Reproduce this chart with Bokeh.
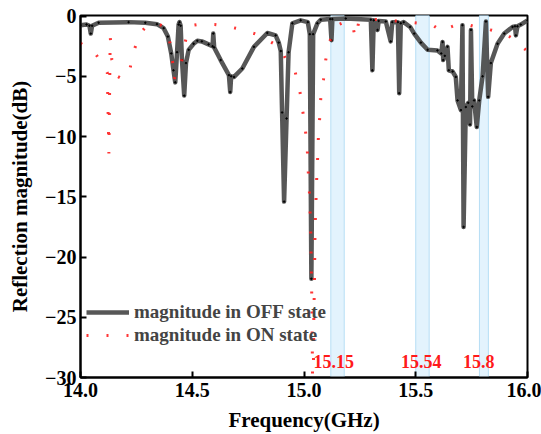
from bokeh.plotting import figure
from bokeh.models import FixedTicker, PrintfTickFormatter, Legend, LegendItem, Range1d
from bokeh.core.properties import value
from bokeh.embed import file_html
from bokeh.resources import INLINE

# ---- data ----
off_freq = [14.000, 14.027, 14.040, 14.046, 14.052, 14.081, 14.215, 14.290, 14.342, 14.372,
            14.391, 14.406, 14.416, 14.424, 14.432, 14.439, 14.443, 14.448, 14.454, 14.464,
            14.472, 14.484, 14.506, 14.523, 14.543, 14.573, 14.591, 14.594, 14.598, 14.627,
            14.664, 14.670, 14.674, 14.687, 14.724, 14.776, 14.836, 14.873, 14.887, 14.896,
            14.902, 14.911, 14.922, 14.931, 14.948, 14.985, 15.017, 15.026, 15.033, 15.041,
            15.060, 15.075, 15.117, 15.123, 15.127, 15.187, 15.299, 15.306, 15.312, 15.329,
            15.334, 15.366, 15.388, 15.395, 15.420, 15.426, 15.433, 15.446, 15.475, 15.493,
            15.523, 15.553, 15.597, 15.614, 15.620, 15.623, 15.630, 15.642, 15.648, 15.665,
            15.679, 15.687, 15.702, 15.709, 15.714, 15.724, 15.735, 15.743, 15.747, 15.753,
            15.761, 15.773, 15.784, 15.799, 15.814, 15.824, 15.836, 15.866, 15.896, 15.933,
            15.944, 15.948, 15.955, 15.970, 16.000]
off_db = [-0.75, -0.70, -0.80, -1.45, -0.80, -0.55, -0.50, -0.55, -0.67, -1.00,
          -1.70, -3.10, -4.50, -5.50, -3.00, -0.70, -0.50, -0.80, -3.65, -6.60,
          -3.90, -2.80, -2.30, -2.05, -2.10, -2.35, -2.50, -1.45, -2.60, -3.65,
          -4.90, -6.30, -5.00, -5.05, -4.35, -2.55, -1.40, -1.60, -2.20, -2.90,
          -8.00, -15.40, -8.50, -3.00, -0.60, -0.35, -0.50, -1.50, -21.80, -1.50,
          -0.60, -0.30, -0.25, -2.00, -0.25, -0.20, -0.30, -4.50, -0.35, -1.15,
          -0.40, -0.45, -2.10, -0.50, -0.50, -6.40, -0.60, -0.50, -0.90, -1.45,
          -2.20, -2.80, -2.85, -3.10, -2.15, -3.65, -3.30, -2.55, -4.50, -4.60,
          -5.05, -7.00, -7.80, -0.75, -17.50, -7.55, -7.20, -9.00, -1.15, -7.50,
          -7.00, -9.20, -7.00, -5.00, -0.45, -6.70, -3.90, -2.30, -1.45, -0.90,
          -0.85, -1.60, -0.85, -0.70, -0.35]

on_freq = [14.000, 14.025, 14.050, 14.070, 14.090, 14.110, 14.120, 14.127, 14.133, 14.140,
           14.150, 14.165, 14.185, 14.205, 14.218, 14.235, 14.265, 14.300, 14.335, 14.365,
           14.390, 14.405, 14.412, 14.418, 14.430, 14.447, 14.463, 14.478, 14.507, 14.540,
           14.600, 14.654, 14.716, 14.776, 14.821, 14.851, 14.890, 14.928, 14.960, 14.982,
           14.995, 15.007, 15.015, 15.019, 15.024, 15.027, 15.030, 15.033, 15.036, 15.040,
           15.044, 15.047, 15.049, 15.051, 15.054, 15.057, 15.061, 15.064, 15.070, 15.076,
           15.087, 15.097, 15.116, 15.149, 15.180, 15.215, 15.230, 15.245, 15.321, 15.410,
           15.493, 15.575, 15.620, 15.642, 15.679, 15.731, 15.769, 15.814, 15.836, 15.896,
           15.926, 15.956, 15.985, 16.000]
on_db = [-2.25, -2.55, -2.85, -3.20, -3.80, -4.30, -4.70, -11.40, -1.70, -3.60,
         -4.50, -5.00, -5.20, -5.10, -4.70, -3.10, -1.50, -0.70, -0.55, -0.80,
         -1.45, -2.60, -3.80, -5.30, -4.60, -4.35, -2.70, -1.30, -0.75, -0.65,
         -0.70, -0.83, -1.10, -1.44, -1.77, -2.14, -2.55, -3.90, -4.60, -6.30,
         -7.95, -9.60, -11.20, -12.90, -14.50, -16.10, -17.80, -21.00, -25.00, -34.00,
         -25.00, -21.70, -18.40, -16.70, -15.10, -13.40, -11.80, -10.20, -8.50, -6.50,
         -5.30, -3.65, -2.05, -0.75, -0.50, -0.60, -1.80, -0.50, -0.28, -0.40,
         -0.55, -0.75, -1.30, -1.00, -0.75, -0.70, -0.90, -1.00, -1.15, -1.45,
         -1.77, -2.10, -2.70, -2.90]

band_left = [15.12, 15.50, 15.785]
band_right = [15.18, 15.56, 15.825]
band_labels = ["15.15", "15.54", "15.8"]
label_x = [15.133, 15.525, 15.782]
label_y = [-28.7, -28.7, -28.7]

x_ticks = [14.0, 14.5, 15.0, 15.5, 16.0]
y_ticks = [-30, -25, -20, -15, -10, -5, 0]

FONT = "Liberation Serif"

p = figure(width=541, height=434, output_backend="svg", toolbar_location=None,
           x_range=Range1d(14, 16), y_range=Range1d(-30, 0.05),
           min_border_left=80, min_border_right=14, min_border_top=15, min_border_bottom=57)
p.background_fill_color = "white"
p.border_fill_color = "white"
p.outline_line_color = "black"
p.outline_line_width = 2
p.grid.visible = False

# shaded bands
p.quad(left=band_left, right=band_right, bottom=-30, top=0.05,
       fill_color="#e3f3fd", fill_alpha=1.0, line_color="#b6def5", line_width=1)

off_line = p.line(off_freq, off_db, line_color="#4a4a4a", line_width=4.5, line_alpha=0.93,
                  line_join="round")
p.scatter(off_freq, off_db, size=1.5, color="black")
on_line = p.line(on_freq, on_db, line_color="#ff2020", line_width=3, line_dash="2 18",
                 line_alpha=0.9)

p.text(x=label_x, y=label_y, text=band_labels, text_color="#ff1a1a",
       text_font=value(FONT), text_font_style="bold", text_font_size="18px",
       text_align="center", text_baseline="middle")

for ax in (p.xaxis[0], p.yaxis[0]):
    ax.axis_line_width = 2
    ax.major_tick_line_width = 2
    ax.major_tick_in = 6
    ax.major_tick_out = 0
    ax.minor_tick_in = 0
    ax.minor_tick_out = 0
    ax.major_label_text_font = FONT
    ax.major_label_text_font_style = "bold"
    ax.major_label_text_font_size = "20px"
    ax.major_label_text_color = "black"
    ax.axis_label_text_font = FONT
    ax.axis_label_text_font_style = "bold"
    ax.axis_label_text_font_size = "21px"
    ax.axis_label_text_color = "black"

p.xaxis.ticker = FixedTicker(ticks=x_ticks)
p.xaxis.formatter = PrintfTickFormatter(format="%.1f")
p.yaxis.ticker = FixedTicker(ticks=y_ticks)
p.xaxis.axis_label = "Frequency(GHz)"
p.yaxis.axis_label = "Reflection magnitude(dB)"
p.xaxis.major_label_standoff = 5
p.xaxis.axis_label_standoff = 8
p.yaxis.major_label_standoff = 4
p.yaxis.axis_label_standoff = 10

legend = Legend(items=[LegendItem(label="magnitude in OFF state", renderers=[off_line]),
                       LegendItem(label="magnitude in ON state", renderers=[on_line])],
                location=(2, 27))
legend.background_fill_alpha = 0
legend.border_line_alpha = 0
legend.label_text_font = FONT
legend.label_text_font_style = "bold"
legend.label_text_font_size = "19px"
legend.glyph_width = 43
legend.glyph_height = 20
legend.label_height = 20
legend.spacing = 1
legend.padding = 4
legend.margin = 0
legend.label_standoff = 5
p.add_layout(legend, "center")

open("out.html", "w").write(file_html(p, INLINE))
